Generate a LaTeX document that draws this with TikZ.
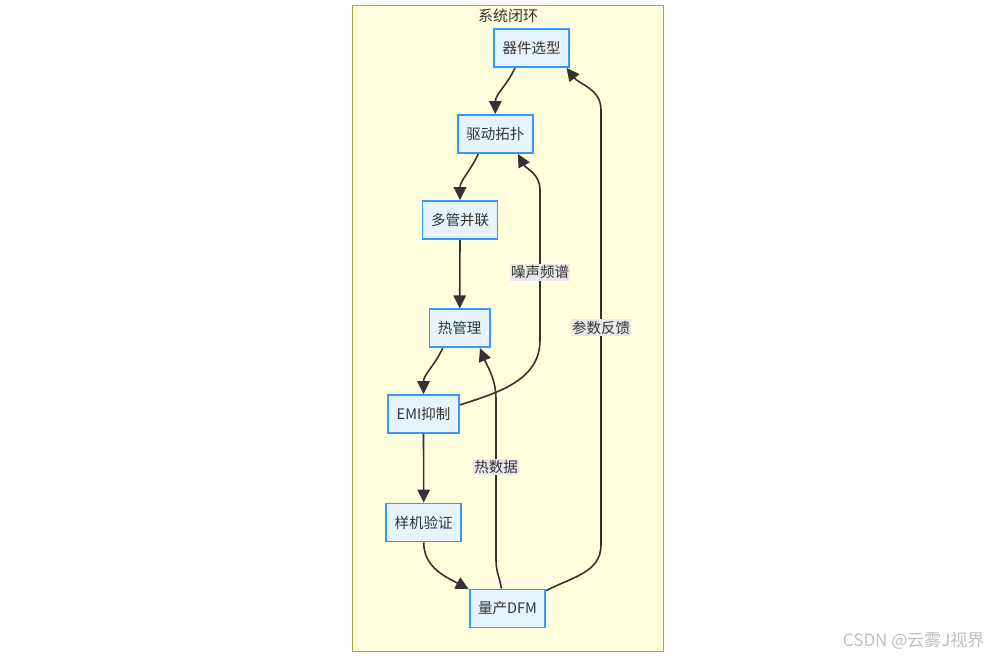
\documentclass[tikz,border=0pt]{standalone}
\usepackage{fontspec}
\newfontfamily\cjk{Noto Sans CJK SC}
\usetikzlibrary{arrows.meta}
\definecolor{groupfill}{HTML}{FFFFDE}
\definecolor{groupline}{HTML}{AAAA33}
\definecolor{boxfill}{HTML}{E6F4FF}
\definecolor{boxline}{HTML}{3399FF}
\definecolor{ink}{HTML}{333333}
\definecolor{lblfill}{HTML}{E8E8E8}

\begin{document}
\begin{tikzpicture}[x=1pt,y=-1pt,
    proc/.style={draw=boxline, fill=boxfill, line width=1.8pt, text=ink,
        font=\cjk\fontsize{14.5}{17}\selectfont, inner xsep=8.5pt, inner ysep=0pt,
        minimum height=38pt},
    flow/.style={draw=ink, line width=1.6pt, -{Triangle[length=13pt,width=12.5pt]}},
    lbl/.style={fill=lblfill, text=ink, font=\cjk\fontsize{14.5}{17}\selectfont,
        inner xsep=1pt, inner ysep=1.5pt}]

    \useasboundingbox (0,0) rectangle (991,658);
    \draw[fill=groupfill, draw=groupline] (352,5) rectangle (663,651);
    \node[text=ink, font=\cjk\fontsize{15}{17}\selectfont] (title) at (508,16) {系统闭环};

    \node[proc] (xj) at (531.5,48) {器件选型};
    \node[proc] (qd) at (495.3,134) {驱动拓扑};
    \node[proc] (dg) at (460,220) {多管并联};
    \node[proc] (rg) at (459.7,328.3) {热管理};
    \node[proc] (emi) at (423.5,414) {EMI抑制};
    \node[proc] (yj) at (423.7,522.5) {样机验证};
    \node[proc] (lc) at (507.5,608.5) {量产DFM};

    \draw[flow] ([xshift=-16.5pt]xj.south) to[out=-115,in=90] (qd.north);
    \draw[flow] ([xshift=-17pt]qd.south) to[out=-115,in=90] (dg.north);
    \draw[flow] (dg.south) -- (rg.north);
    \draw[flow] ([xshift=-17pt]rg.south) to[out=-115,in=90] (emi.north);
    \draw[flow] (emi.south) -- (yj.south |- yj.north);
    \draw[flow] (yj.south) to[out=-90,in=152] ([yshift=-0.5pt]lc.north west);

    % feedback paths
    \draw[flow] ([yshift=9pt]emi.east) to[out=18,in=-90] (540,340)
        -- node[lbl, pos=0.45] (l1) {噪声频谱} (540,190)
        to[out=90,in=-62] ([xshift=22.7pt]qd.south);
    \draw[flow] ([xshift=-6pt]lc.north) to[out=100,in=-90] (496,560)
        -- node[lbl, pos=0.58] (l2) {热数据} (496,400)
        to[out=90,in=-68] ([xshift=20.3pt]rg.south);
    \draw[flow] ([yshift=-2pt]lc.north east) to[out=28,in=-90] (601,545)
        -- node[lbl] (l3) {参数反馈} (601,110)
        to[out=90,in=-52] ([xshift=35pt]xj.south);

    \node[text=black!25, font=\cjk\fontsize{17}{19}\selectfont, anchor=east] (mark) at (988,641) {CSDN @云雾J视界};
\end{tikzpicture}
\end{document}
